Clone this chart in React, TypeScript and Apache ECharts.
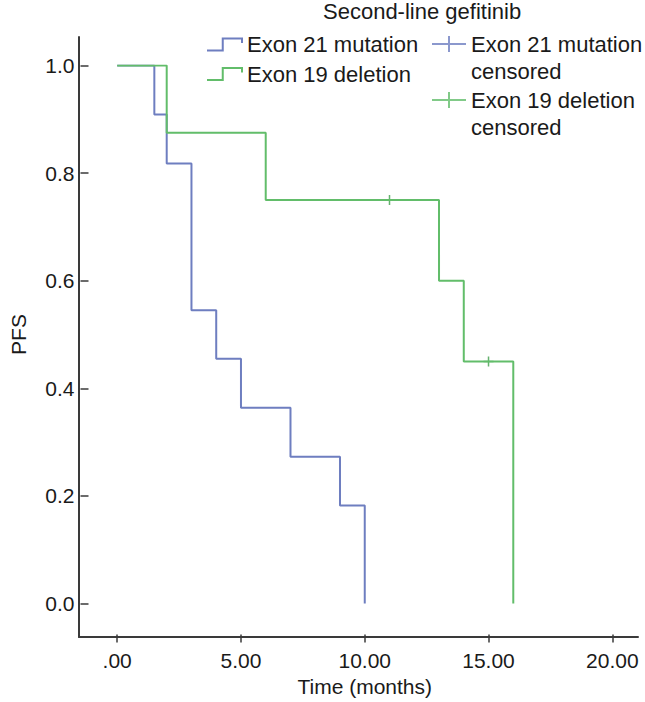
import React, { useEffect, useRef } from 'react';
import * as echarts from 'echarts';

// ---- Data ----
const TITLE = 'Second-line gefitinib';
const X_NAME = 'Time (months)';
const Y_NAME = 'PFS';

const NAME_21 = 'Exon 21 mutation';
const NAME_19 = 'Exon 19 deletion';
const NAME_21_CENS = 'Exon 21 mutation censored';
const NAME_19_CENS = 'Exon 19 deletion censored';

const exon21Time = [0, 1.5, 2, 3, 4, 5, 7, 9, 10];
const exon21Pfs = [1.0, 0.909, 0.818, 0.545, 0.455, 0.364, 0.273, 0.182, 0.0];

const exon19Time = [0, 2, 6, 13, 14, 16];
const exon19Pfs = [1.0, 0.875, 0.75, 0.6, 0.45, 0.0];

const exon21CensorTime: number[] = [];
const exon21CensorPfs: number[] = [];
const exon19CensorTime = [11, 15];
const exon19CensorPfs = [0.75, 0.45];

const xTickValues = [0, 5, 10, 15, 20];
const xTickLabels = ['.00', '5.00', '10.00', '15.00', '20.00'];

// ---- Styles ----
const FONT = '"Liberation Sans", Arial, Helvetica, sans-serif';
const BLUE = '#6e7ec0';
const GREEN = '#62bd6a';
const GREEN_DARK = '#3f9f4a';
const AXIS = '#3a3a3a';
const TEXT = '#1a1a1a';

const STEP_ICON = 'path://M0,27 L45,27 L45,0 L100,0 L100,10';
// cross drawn in the upper line of a two-line legend item (invisible moveTo points fix the box)
const CROSS_ICON_TALL = 'path://M0,0 M0,13.5 L34,13.5 M17,5.5 L17,21.5 M34,54';
const CENSOR_MARK = 'path://M0,5 L10,5 M5,0 L5,10';

const zip = (a: number[], b: number[]) => a.map((v, i) => [v, b[i]]);

export default function App() {
  const ref = useRef<HTMLDivElement>(null);

  useEffect(() => {
    if (!ref.current) return;
    const chart = echarts.init(ref.current, undefined, { renderer: 'svg' });

    const legendText = { fontSize: 22, lineHeight: 27, color: TEXT, fontFamily: FONT };

    chart.setOption({
      animation: false,
      backgroundColor: '#ffffff',
      title: {
        text: TITLE,
        left: 323,
        top: 0,
        padding: 0,
        textStyle: { fontSize: 22, fontWeight: 'normal', color: TEXT, fontFamily: FONT },
      },
      legend: [
        {
          left: 206,
          top: 31,
          orient: 'vertical',
          padding: 0,
          itemGap: 2.5,
          itemWidth: 35,
          itemHeight: 12,
          symbolKeepAspect: false,
          selectedMode: false,
          textStyle: legendText,
          data: [
            { name: NAME_21, icon: STEP_ICON, itemStyle: { color: 'transparent', borderColor: BLUE, borderWidth: 2 } },
            { name: NAME_19, icon: STEP_ICON, itemStyle: { color: 'transparent', borderColor: GREEN, borderWidth: 2 } },
          ],
        },
        {
          left: 431,
          top: 29.5,
          orient: 'vertical',
          padding: 0,
          itemGap: 0,
          itemWidth: 34,
          itemHeight: 54,
          symbolKeepAspect: false,
          selectedMode: false,
          textStyle: legendText,
          formatter: (n: string) => n.replace(' censored', '\ncensored'),
          data: [
            { name: NAME_21_CENS, icon: CROSS_ICON_TALL, itemStyle: { color: 'transparent', borderColor: BLUE, borderWidth: 2 } },
            { name: NAME_19_CENS, icon: CROSS_ICON_TALL, itemStyle: { color: 'transparent', borderColor: GREEN, borderWidth: 2 } },
          ],
        },
      ],
      grid: [
        { left: 107.7, right: 32.7, top: 65.5, bottom: 96 },
        { left: 79, right: 7, top: 37, bottom: 65 },
      ],
      xAxis: [
        {
          gridIndex: 0,
          type: 'value',
          min: 0,
          max: 20,
          interval: 5,
          offset: 31,
          axisLine: { show: false, onZero: false },
          axisTick: { show: true, length: 8, lineStyle: { color: AXIS, width: 1.5 } },
          splitLine: { show: false },
          axisLabel: {
            margin: 15,
            fontSize: 21,
            color: TEXT,
            fontFamily: FONT,
            formatter: (v: number) => {
              const i = xTickValues.indexOf(v);
              return i >= 0 ? xTickLabels[i] : '';
            },
          },
          name: X_NAME,
          nameLocation: 'middle',
          nameGap: 52,
          nameTextStyle: { fontSize: 21, color: TEXT, fontFamily: FONT, verticalAlign: 'middle' },
        },
        {
          gridIndex: 1,
          type: 'value',
          min: 0,
          max: 1,
          axisLine: { show: true, onZero: false, lineStyle: { color: AXIS, width: 2 } },
          axisTick: { show: false },
          axisLabel: { show: false },
          splitLine: { show: false },
        },
      ],
      yAxis: [
        {
          gridIndex: 0,
          type: 'value',
          min: 0,
          max: 1,
          interval: 0.2,
          offset: 28.7,
          axisLine: { show: false, onZero: false },
          axisTick: { show: true, length: 8, lineStyle: { color: AXIS, width: 1.5 } },
          splitLine: { show: false },
          axisLabel: {
            margin: 14,
            fontSize: 21,
            color: TEXT,
            fontFamily: FONT,
            formatter: (v: number) => v.toFixed(1),
          },
          name: Y_NAME,
          nameLocation: 'middle',
          nameRotate: 90,
          nameGap: 70,
          nameTextStyle: { fontSize: 21, color: TEXT, fontFamily: FONT, verticalAlign: 'middle' },
        },
        {
          gridIndex: 1,
          type: 'value',
          min: 0,
          max: 1,
          axisLine: { show: true, onZero: false, lineStyle: { color: AXIS, width: 2 } },
          axisTick: { show: false },
          axisLabel: { show: false },
          splitLine: { show: false },
        },
      ],
      series: [
        {
          name: NAME_21,
          type: 'line',
          step: 'end',
          xAxisIndex: 0,
          yAxisIndex: 0,
          data: zip(exon21Time, exon21Pfs),
          showSymbol: false,
          symbol: 'none',
          lineStyle: { color: BLUE, width: 2 },
          itemStyle: { color: BLUE },
          silent: true,
        },
        {
          name: NAME_19,
          type: 'line',
          step: 'end',
          xAxisIndex: 0,
          yAxisIndex: 0,
          data: zip(exon19Time, exon19Pfs),
          showSymbol: false,
          symbol: 'none',
          lineStyle: { color: GREEN, width: 2 },
          itemStyle: { color: GREEN },
          silent: true,
        },
        {
          name: NAME_21_CENS,
          type: 'scatter',
          xAxisIndex: 0,
          yAxisIndex: 0,
          data: zip(exon21CensorTime, exon21CensorPfs),
          symbol: CENSOR_MARK,
          symbolSize: [10, 10],
          itemStyle: { color: 'transparent', borderColor: BLUE, borderWidth: 1.5 },
          silent: true,
        },
        {
          name: NAME_19_CENS,
          type: 'scatter',
          xAxisIndex: 0,
          yAxisIndex: 0,
          data: zip(exon19CensorTime, exon19CensorPfs),
          symbol: CENSOR_MARK,
          symbolSize: [10, 10],
          itemStyle: { color: 'transparent', borderColor: GREEN_DARK, borderWidth: 1.5 },
          silent: true,
        },
      ],
    });

    return () => {
      chart.dispose();
    };
  }, []);

  return (
    <div
      ref={ref}
      style={{ position: 'absolute', left: 0, top: 0, width: 645, height: 702 }}
    />
  );
}
